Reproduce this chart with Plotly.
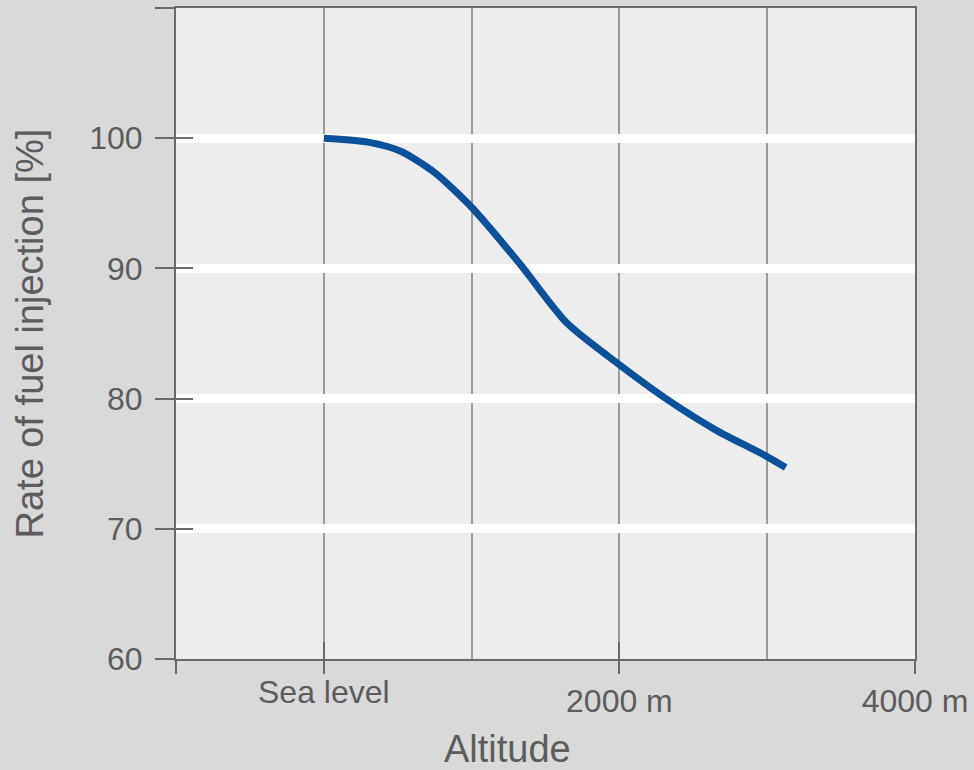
import plotly.graph_objects as go

# Data
altitude = [0, 300, 520, 745, 1000, 1330, 1645, 2000, 2340, 2650, 2990, 3125]
rate = [100, 99.7, 99.0, 97.4, 94.7, 90.3, 85.8, 82.6, 79.8, 77.6, 75.6, 74.7]

x_tick_vals = [-1000, 0, 2000, 4000]
x_tick_text = ["", "Sea level", "2000 m", "4000 m"]
x_grid_vals = [0, 1000, 2000, 3000]
y_tick_vals = [60, 70, 80, 90, 100, 110]
y_tick_text = ["60", "70", "80", "90", "100", ""]
y_grid_vals = [70, 80, 90, 100]

x_title = "Altitude"
y_title = "Rate of fuel injection [%]"

XR = [-1000, 4000]
YR = [60, 110]
TXT = "#5c5c5c"
AX = "#6a6a6a"
FONT = "Liberation Sans, Arial, sans-serif"

# "Sea level" sits a little higher than the numeric labels in the reference
x_text_main = [t if i != 1 else "" for i, t in enumerate(x_tick_text)]
x_text_sea = [t if i == 1 else "" for i, t in enumerate(x_tick_text)]

fig = go.Figure()
fig.add_trace(go.Scatter(x=altitude, y=rate, mode="lines",
                         line=dict(color="#0a519c", width=7, shape="spline", smoothing=0.7),
                         hoverinfo="skip", showlegend=False))
for ax in ("2", "3"):
    fig.add_trace(go.Scatter(x=altitude, y=rate, mode="lines", xaxis="x" + ax, yaxis="y" + ax,
                             line=dict(width=0), opacity=0, hoverinfo="skip", showlegend=False))

fig.update_layout(
    width=974, height=770,
    margin=dict(l=176, r=59, t=6, b=111),
    paper_bgcolor="#d9d9d9", plot_bgcolor="#ededed",
    font=dict(family=FONT, color=TXT, size=32),
    xaxis=dict(range=XR, tickmode="array", tickvals=x_grid_vals, showticklabels=False, ticks="",
               showgrid=True, gridcolor="#9a9a9a", gridwidth=1.6, zeroline=False,
               showline=True, mirror=True, linecolor=AX, linewidth=2),
    yaxis=dict(range=YR, tickmode="array", tickvals=y_grid_vals, showticklabels=False, ticks="",
               showgrid=True, gridcolor="#ffffff", gridwidth=9, zeroline=False,
               showline=True, mirror=True, linecolor=AX, linewidth=2),
    xaxis2=dict(range=XR, overlaying="x", anchor="y2", side="bottom", tickmode="array",
                tickvals=x_tick_vals, ticktext=x_text_main, ticks="outside", ticklen=14,
                tickwidth=2, tickcolor=AX, showgrid=False, zeroline=False, showline=False,
                tickfont=dict(size=32, color=TXT, family=FONT)),
    yaxis2=dict(range=YR, overlaying="y", anchor="x2", side="left", tickmode="array",
                tickvals=y_tick_vals, ticktext=y_tick_text, ticks="outside", ticklen=20,
                tickwidth=2, tickcolor=AX, showgrid=False, zeroline=False, showline=False,
                ticklabelstandoff=6,
                tickfont=dict(size=32, color=TXT, family=FONT)),
    xaxis3=dict(range=XR, overlaying="x", anchor="y3", side="bottom", tickmode="array",
                tickvals=x_tick_vals, ticktext=x_text_sea, showticklabels=True,
                ticks="inside", ticklen=17, ticklabelstandoff=11,
                tickwidth=2, tickcolor=AX, showgrid=False, zeroline=False, showline=False,
                tickfont=dict(size=32, color=TXT, family=FONT)),
    yaxis3=dict(range=YR, overlaying="y", anchor="x3", side="left", tickmode="array",
                tickvals=y_tick_vals, showticklabels=False, ticks="inside", ticklen=17,
                tickwidth=2, tickcolor=AX, showgrid=False, zeroline=False, showline=False),
    annotations=[
        dict(text=x_title, xref="paper", yref="paper", x=(507 - 176) / 739, y=-(749 - 659) / 653,
             xanchor="center", yanchor="middle", showarrow=False,
             font=dict(size=38, color=TXT, family=FONT)),
        dict(text=y_title, xref="paper", yref="paper", x=(29 - 176) / 739, y=0.5,
             xanchor="center", yanchor="middle", textangle=-90, showarrow=False,
             font=dict(size=38, color=TXT, family=FONT)),
    ],
)

fig.write_html("out.html", config={"displayModeBar": False},
               post_script="document.body.style.margin='0px';document.body.style.overflow='hidden';")
